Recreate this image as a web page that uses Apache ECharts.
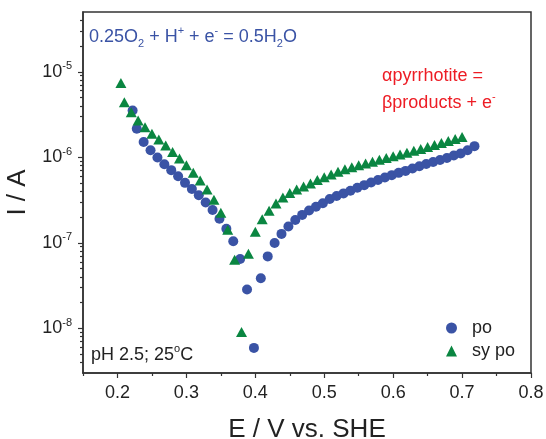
<!DOCTYPE html>
<html>
<head>
<meta charset="utf-8">
<script src="https://cdn.jsdelivr.net/npm/echarts@6/dist/echarts.min.js"></script>
<style>
  html, body { margin: 0; padding: 0; background: #fff; }
  #chart { width: 546px; height: 439px; }
</style>
</head>
<body>
<div id="chart"></div>
<script>
// po (pyrrhotite) - potential (V vs SHE) and current (A)
const poE = [0.222, 0.228, 0.238, 0.248, 0.258, 0.268, 0.278, 0.288, 0.298, 0.308,
  0.318, 0.328, 0.338, 0.348, 0.358, 0.368, 0.378, 0.388, 0.398, 0.408,
  0.418, 0.428, 0.438, 0.448, 0.458, 0.468, 0.478, 0.488, 0.498, 0.508,
  0.518, 0.528, 0.538, 0.548, 0.558, 0.568, 0.578, 0.588, 0.598, 0.608,
  0.618, 0.628, 0.638, 0.648, 0.658, 0.668, 0.678, 0.688, 0.698, 0.708, 0.718]
const poI = [3.52e-6, 2.16e-6, 1.51e-6, 1.21e-6, 9.93e-7, 8.30e-7, 7.07e-7, 6.01e-7, 5.02e-7, 4.25e-7,
  3.59e-7, 2.96e-7, 2.42e-7, 1.91e-7, 1.46e-7, 1.04e-7, 6.45e-8, 2.84e-8, 5.90e-9, 3.85e-8,
  6.93e-8, 9.93e-8, 1.27e-7, 1.55e-7, 1.85e-7, 2.12e-7, 2.38e-7, 2.64e-7, 2.90e-7, 3.25e-7,
  3.52e-7, 3.78e-7, 4.06e-7, 4.40e-7, 4.72e-7, 5.08e-7, 5.41e-7, 5.81e-7, 6.18e-7, 6.57e-7,
  6.93e-7, 7.39e-7, 7.86e-7, 8.36e-7, 8.82e-7, 9.31e-7, 9.82e-7, 1.05e-6, 1.11e-6, 1.21e-6, 1.35e-6]

// sy po (synthetic pyrrhotite)
const syE = [0.205, 0.21, 0.22, 0.23, 0.24, 0.25, 0.26, 0.27, 0.28, 0.29,
  0.30, 0.31, 0.32, 0.33, 0.34, 0.35, 0.36, 0.37, 0.38, 0.39,
  0.40, 0.41, 0.42, 0.43, 0.44, 0.45, 0.46, 0.47, 0.48, 0.49,
  0.50, 0.51, 0.52, 0.53, 0.54, 0.55, 0.56, 0.57, 0.58, 0.59,
  0.60, 0.61, 0.62, 0.63, 0.64, 0.65, 0.66, 0.67, 0.68, 0.69, 0.70]
const syI = [7.39e-6, 4.40e-6, 3.37e-6, 2.69e-6, 2.25e-6, 1.89e-6, 1.61e-6, 1.37e-6, 1.15e-6, 9.66e-7,
  8.07e-7, 6.60e-7, 5.36e-7, 4.21e-7, 3.19e-7, 2.25e-7, 1.42e-7, 6.34e-8, 9.06e-9, 7.45e-8,
  1.35e-7, 1.89e-7, 2.37e-7, 2.88e-7, 3.38e-7, 3.81e-7, 4.19e-7, 4.54e-7, 4.92e-7, 5.41e-7,
  5.85e-7, 6.27e-7, 6.78e-7, 7.24e-7, 7.66e-7, 8.07e-7, 8.47e-7, 8.89e-7, 9.33e-7, 9.79e-7,
  1.03e-6, 1.08e-6, 1.13e-6, 1.19e-6, 1.25e-6, 1.32e-6, 1.39e-6, 1.47e-6, 1.55e-6, 1.64e-6, 1.73e-6]

const xTicks = [0.2, 0.3, 0.4, 0.5, 0.6, 0.7, 0.8]
const xMinorTicks = [0.15, 0.25, 0.35, 0.45, 0.55, 0.65, 0.75]
const yTicks = [1e-8, 1e-7, 1e-6, 1e-5]
const yMinorTicks = [4e-9, 5e-9, 6e-9, 7e-9, 8e-9, 9e-9,
  2e-8, 3e-8, 4e-8, 5e-8, 6e-8, 7e-8, 8e-8, 9e-8,
  2e-7, 3e-7, 4e-7, 5e-7, 6e-7, 7e-7, 8e-7, 9e-7,
  2e-6, 3e-6, 4e-6, 5e-6, 6e-6, 7e-6, 8e-6, 9e-6,
  2e-5, 3e-5, 4e-5]

const FONT = '"Liberation Sans", Arial, sans-serif'
const AXIS = '#333'
const BLUE = '#3a53a5'
const GREEN = '#0a8641'

const chart = echarts.init(document.getElementById('chart'), null, { renderer: 'canvas' })

const pair = (xs, ys) => xs.map((x, i) => [x, ys[i]])

chart.setOption({
  animation: false,
  grid: { left: 83, right: 15, top: 12, bottom: 66, show: true, borderColor: AXIS, borderWidth: 1.5, outerBoundsMode: 'none' },
  xAxis: [
    {
      type: 'value', min: 0.15, max: 0.8, position: 'bottom',
      axisLine: { show: true, onZero: false, lineStyle: { color: AXIS, width: 1.5 } },
      axisTick: { show: true, length: 5, customValues: xTicks, lineStyle: { color: AXIS, width: 1.2 } },
      axisLabel: { customValues: xTicks, color: '#222', fontSize: 18, fontFamily: FONT, margin: 11, formatter: v => v.toFixed(1) },
      splitLine: { show: false },
      name: 'E / V vs. SHE', nameLocation: 'middle', nameGap: 44,
      nameTextStyle: { fontSize: 26, fontFamily: FONT, color: '#222' },
    },
    {
      type: 'value', min: 0.15, max: 0.8, position: 'bottom',
      axisLine: { show: false, onZero: false },
      axisTick: { show: true, length: 3, customValues: xMinorTicks, lineStyle: { color: AXIS, width: 1.2 } },
      axisLabel: { show: false },
      splitLine: { show: false },
    },
  ],
  yAxis: [
    {
      type: 'log', logBase: 10, min: 3e-9, max: 5e-5, position: 'left',
      axisLine: { show: true, onZero: false, lineStyle: { color: AXIS, width: 1.5 } },
      axisTick: { show: true, length: 5, customValues: yTicks, lineStyle: { color: AXIS, width: 1.2 } },
      axisLabel: {
        customValues: yTicks, margin: 11, color: '#222', fontFamily: FONT,
        formatter: v => '{b|10}{s|' + Math.round(Math.log10(v)) + '}',
        rich: {
          b: { fontSize: 18, fontFamily: FONT, color: '#222', lineHeight: 22 },
          s: { fontSize: 11, fontFamily: FONT, color: '#222', lineHeight: 11, verticalAlign: 'top' },
        },
      },
      splitLine: { show: false },
      name: 'I / A', nameLocation: 'middle', nameGap: 48,
      nameTextStyle: { fontSize: 26, fontFamily: FONT, color: '#222' },
    },
    {
      type: 'log', logBase: 10, min: 3e-9, max: 5e-5, position: 'left',
      axisLine: { show: false, onZero: false },
      axisTick: { show: true, length: 3, customValues: yMinorTicks, lineStyle: { color: AXIS, width: 1.2 } },
      axisLabel: { show: false },
      splitLine: { show: false },
    },
  ],
  legend: {
    orient: 'vertical', left: 441, top: 314,
    itemWidth: 11, itemHeight: 11, itemGap: 5,
    textStyle: { fontSize: 18, fontFamily: FONT, color: '#222', padding: [0, 0, 0, 10] },
    data: ['po', 'sy po'],
  },
  graphic: [
    {
      type: 'text', left: 89, top: 25,
      style: {
        text: '{m|0.25O}{d|2}{m| + H}{u|+}{m| + e}{u|-}{m| = 0.5H}{d|2}{m|O}',
        rich: {
          m: { fontSize: 18, fontFamily: FONT, fill: BLUE, lineHeight: 24 },
          d: { fontSize: 11, fontFamily: FONT, fill: BLUE, lineHeight: 11, verticalAlign: 'bottom' },
          u: { fontSize: 11, fontFamily: FONT, fill: BLUE, lineHeight: 11, verticalAlign: 'top' },
        },
      },
    },
    {
      type: 'text', left: 382, top: 67,
      style: { text: 'αpyrrhotite =', fontSize: 18, fontFamily: FONT, fill: '#ed1c24' },
    },
    {
      type: 'text', left: 382, top: 91,
      style: {
        text: '{m|βproducts + e}{u|-}',
        rich: {
          m: { fontSize: 18, fontFamily: FONT, fill: '#ed1c24', lineHeight: 24 },
          u: { fontSize: 11, fontFamily: FONT, fill: '#ed1c24', lineHeight: 11, verticalAlign: 'top' },
        },
      },
    },
    {
      type: 'text', left: 91, top: 343,
      style: {
        text: '{m|pH 2.5; 25}{u|o}{m|C}',
        rich: {
          m: { fontSize: 18, fontFamily: FONT, fill: '#222', lineHeight: 24 },
          u: { fontSize: 11, fontFamily: FONT, fill: '#222', lineHeight: 11, verticalAlign: 'top' },
        },
      },
    },
  ],
  series: [
    {
      name: 'po', type: 'scatter', symbol: 'circle', symbolSize: 10,
      xAxisIndex: 0, yAxisIndex: 0,
      itemStyle: { color: BLUE, opacity: 1 },
      data: pair(poE, poI),
    },
    {
      name: 'sy po', type: 'scatter', symbol: 'triangle', symbolSize: [11, 10],
      xAxisIndex: 0, yAxisIndex: 0,
      itemStyle: { color: GREEN, opacity: 1 },
      data: pair(syE, syI),
    },
  ],
})
</script>
</body>
</html>
